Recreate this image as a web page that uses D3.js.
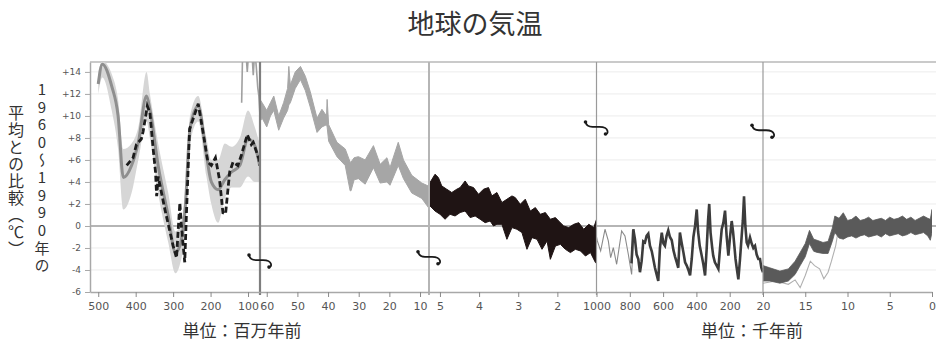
<!DOCTYPE html>
<html><head><meta charset="utf-8">
<script src="https://cdn.jsdelivr.net/npm/d3@7"></script>
<style>
html,body{margin:0;padding:0;background:#fff;}
svg{display:block;}
</style></head>
<body>
<svg id="chart" width="936" height="341"></svg>
<script>
// ---------------- DATA ----------------
const titleText = "地球の気温";
const yTitleRight = "1960～1990年の";
const yTitleLeft = "平均との比較（℃）";
const unitMa = "単位：百万年前";
const unitKa = "単位：千年前";

const panelDomains = [[522, 68], [62.2, 7.07], [5.28, 1], [1000, 0], [20, 0]];
const panelTicks = [[500,400,300,200,100],[60,50,40,30,20,10],[5,4,3,2],[1000,800,600,400,200],[20,15,10,5,0]];
const yTicks = [-6,-4,-2,0,2,4,6,8,10,12,14];

// Panel 1 (Ma): grey smoothed curve with uncertainty band
const p1Time = [500,489,464,447,433,411,393,371,362,340,313,294,282,268,255,233,211,198,180,162,144,122,100,82,69];
const p1Mid  = [12.9,14.7,12.7,10.0,4.4,5.5,7.6,11.8,10.6,5.5,0.9,-2.4,-1.8,1.5,8.8,10.9,6.4,4.0,3.3,4.2,4.9,5.5,7.9,7.3,5.5];
const p1Lo   = [12.0,13.5,10.5,7.0,1.5,3.0,6.0,9.5,8.0,3.0,-1.5,-4.3,-3.5,-0.5,7.5,9.5,4.5,2.0,0.3,2.5,3.5,3.5,4.5,4.0,4.0];
const p1Hi   = [14.0,15.0,13.8,11.5,7.0,7.5,9.0,14.0,12.0,7.5,3.0,-0.5,0.0,3.0,10.0,11.8,8.0,6.0,6.0,7.5,7.2,8.0,10.5,9.0,7.5];
// Panel 1 dashed curve
const dashTime = [424,407,398,385,380,369,362,353,347,344,340,322,300,291,282,278,269,265,256,247,233,220,207,198,187,176,167,160,149,140,127,118,102,91,86,71,69];
const dashTemp = [5.5,6.2,7.4,7.9,8.6,10.9,10.3,6.9,4.9,2.7,4.5,1.5,-1.8,-2.9,2.1,0.0,-3.3,0.6,8.8,9.7,11.1,8.5,5.8,5.5,6.2,4.2,1.2,1.1,4.9,5.8,5.5,6.4,8.3,7.4,7.6,6.1,5.5];
// Panel 1 late-Cretaceous grey trace
const kTime = [117,115,113,110,106,102,98,94,90,86,82,78,74,71,68];
const kTemp = [11.2,14.8,16,15.5,16,14,16,15,16,13.7,16,14.5,12.6,11.8,10.0];

// Panel 2 (Ma): noisy grey record (range low / high)
const p2Time = [62.2,61.5,60,58.8,57.7,56.1,54.5,53.2,52.8,52.3,50.7,49,47.4,45.8,43.6,42,40.5,40.3,39.8,37.1,34.4,32.8,32.5,31.5,30.1,27.9,25.2,23,20.8,19.8,17.1,15.4,12.7,9.4,7.07];
const p2Lo = [9.5,9.8,9.0,10.0,10.5,8.7,9.8,10.5,11.0,11.2,12.5,13.3,12.3,10.8,8.5,9.0,9.2,9.0,7.7,6.3,5.5,3.2,3.2,4.2,4.3,3.8,5.3,3.9,4.0,3.7,5.5,4.3,3.0,2.5,1.6];
const p2Hi = [11.5,11.2,10.5,11.2,11.8,10.0,11.2,12.5,14.5,12.8,14.0,14.5,13.6,12.2,9.8,10.6,10.0,11.5,9.2,7.6,7.0,5.8,5.8,6.2,6.3,6.0,7.3,5.6,6.2,5.3,7.6,6.0,4.6,3.9,3.6];

// Panel 3 (Ma): black noisy record, upper and lower envelopes
const p3UpTime = [5.28,5.254,5.126,5.04,4.955,4.827,4.698,4.57,4.485,4.357,4.272,4.143,4.015,3.887,3.759,3.674,3.545,3.417,3.289,3.16,3.076,2.948,2.82,2.692,2.563,2.435,2.307,2.179,2.05,1.966,1.838,1.71,1.582,1.454,1.326,1.197,1.069,1.0];
const p3UpTemp = [3.6,3.95,4.7,4.4,3.64,3.34,3.04,3.34,3.49,4.09,3.64,3.49,2.88,3.34,3.49,2.73,3.04,2.13,2.43,2.73,2.58,1.97,2.43,1.36,1.67,1.06,1.22,0.61,0.76,0.45,0.0,-0.15,0.15,0.3,-0.3,0.15,-0.15,0.6];
const p3LoTime = [5.28,5.254,5.126,4.998,4.87,4.742,4.614,4.485,4.357,4.229,4.101,3.973,3.845,3.717,3.632,3.545,3.417,3.289,3.16,3.033,2.905,2.777,2.649,2.52,2.392,2.264,2.179,2.05,1.923,1.795,1.667,1.539,1.41,1.282,1.154,1.026,1.0];
const p3LoTemp = [2.0,1.82,1.36,1.06,0.61,1.06,0.91,1.22,1.36,0.76,0.91,0.61,0.3,0.45,0.0,0.15,0.15,-1.21,-0.15,-0.3,-0.6,-2.12,-1.06,-1.21,-2.12,-1.36,-3.03,-1.82,-1.67,-2.12,-2.42,-2.12,-2.27,-2.73,-2.42,-3.33,-3.4];

// Panel 4 (ka): thin early record and dark record
const p4aTime = [1000,995,975,949,929,915,899,879,849,829,809,789,775];
const p4aTemp = [-1.0,-1.36,-2.27,-0.3,-1.36,-2.88,-1.97,-3.48,-0.45,-0.9,-2.57,-4.4,-0.3];
const p4Time = [790,779,769,759,749,739,729,719,709,699,689,679,668,659,649,639,629,619,608,598,589,579,569,559,548,538,528,518,509,499,489,478,468,458,448,438,428,418,408,398,390,380,368,358,348,338,330,323,315,305,299,289,278,268,258,248,238,228,218,208,198,188,180,172,165,158,148,138,128,121,114,106,98,90,78,68,58,48,38,28,18,10,0];
const p4Temp = [-3.4,-0.3,-1.2,-2.6,-3.0,-4.2,-3.2,-1.4,-1.5,-0.9,-0.7,-1.8,-2.3,-3.0,-3.8,-4.4,-5.0,-2.0,-0.6,-1.6,-1.8,-0.9,-0.4,-1.0,-1.3,-2.2,-2.8,-3.3,-3.8,-0.6,-1.5,-2.4,-3.3,-3.6,-4.0,-4.5,-3.0,-1.0,0.0,1.5,-0.5,-1.8,-2.7,-3.5,-4.5,-2.0,0.5,2.0,-0.6,-2.0,-2.7,-3.3,-3.6,-3.9,-2.0,-0.3,0.3,1.4,-1.0,-2.7,-1.0,0.45,-0.5,-1.8,-3.0,-3.8,-4.85,-3.0,-0.9,0.5,2.7,0.0,-1.5,-1.8,-1.05,-1.6,-2.0,-1.8,-2.6,-3.0,-3.0,-3.8,-4.2];

// Panel 5 (ka): light thin record and dark band record
const p5LightTime = [20,18.5,17,16.2,15.6,15.0,14.4,13.9,13.3,12.8,12.3,11.9,11.4,11.1,10.8,8,5,2,0];
const p5LightTemp = [-5.2,-5.0,-5.3,-4.9,-5.6,-4.5,-3.2,-3.6,-3.9,-4.8,-4.2,-3.2,-1.8,-0.4,0.1,0.1,0.1,0.2,0.2];
const p5Time = [20,19.2,18,17,16.2,15.6,15.0,14.5,14.0,13.6,12.9,12.3,11.8,11.5,11.0,10.5,10,9.5,9,8.5,8,7.5,7,6.5,6,5.5,5,4.5,4,3.5,3,2.5,2,1.5,1,0.5,0.2,0];
const p5Lo = [-5.0,-5.0,-5.2,-5.0,-4.4,-3.6,-2.8,-1.6,-2.3,-2.4,-2.5,-2.5,-1.4,-0.6,-1.1,-1.2,-1.0,-0.9,-1.1,-0.9,-0.8,-1.0,-0.9,-0.8,-1.0,-0.7,-0.9,-0.8,-0.7,-0.9,-0.8,-0.6,-0.8,-0.7,-0.6,-0.9,-1.3,-0.6];
const p5Hi = [-3.6,-3.8,-4.1,-3.9,-3.2,-2.4,-1.6,-0.4,-1.2,-1.3,-1.5,-1.4,-0.2,0.9,0.7,1.2,0.5,0.6,0.9,0.5,0.6,0.8,0.5,0.6,0.7,0.5,0.8,0.6,0.7,0.9,0.6,0.8,0.5,0.7,0.9,0.7,0.6,1.5];

// Break symbols: [panel boundary index, temperature level]
const breakMarks = [[1,-3.1],[2,-2.8],[3,9.0],[4,8.7]];

// ---------------- LAYOUT ----------------
const svg = d3.select("#chart");
const plotTop = 62, plotBottom = 292;
const edges = [90, 260, 429, 596.5, 763, 932];
const y = d3.scaleLinear().domain([-6, 14.9]).range([plotBottom, plotTop]);
const xs = panelDomains.map((d, i) => d3.scaleLinear().domain(d).range([edges[i], edges[i + 1]]));
const zip = (a, b) => a.map((v, i) => [v, b[i]]);

// title
svg.append("text").attr("x", 475).attr("y", 34).attr("text-anchor", "middle")
  .attr("font-family", "'Noto Sans CJK JP', sans-serif").attr("font-size", 27)
  .attr("fill", "#333").text(titleText);

// grid
svg.append("g").selectAll("line").data(yTicks.filter(d => d !== 0 && d !== -6)).join("line")
  .attr("x1", edges[0]).attr("x2", 936).attr("y1", d => y(d)).attr("y2", d => y(d))
  .attr("stroke", "#ececec").attr("stroke-width", 1);
// top border
svg.append("line").attr("x1", edges[0]).attr("x2", 936).attr("y1", plotTop).attr("y2", plotTop)
  .attr("stroke", "#b8b8b8").attr("stroke-width", 1.5);
// zero line
svg.append("line").attr("x1", edges[0]).attr("x2", 936).attr("y1", y(0)).attr("y2", y(0))
  .attr("stroke", "#9c9c9c").attr("stroke-width", 1.5);

// clip paths
const defs = svg.append("defs");
edges.slice(0, 5).forEach((e, i) => {
  defs.append("clipPath").attr("id", "clip" + i).append("rect")
    .attr("x", e).attr("y", plotTop).attr("width", edges[i + 1] - e).attr("height", plotBottom - plotTop);
});
const panelG = i => svg.append("g").attr("clip-path", `url(#clip${i})`);

// Panel 1
{
  const g = panelG(0), x = xs[0];
  g.append("path").datum(p1Time.map((t, i) => [t, p1Lo[i], p1Hi[i]]))
    .attr("d", d3.area().x(d => x(d[0])).y0(d => y(d[1])).y1(d => y(d[2])).curve(d3.curveMonotoneX))
    .attr("fill", "#d6d6d6");
  g.append("path").datum(zip(p1Time, p1Mid))
    .attr("d", d3.line().x(d => x(d[0])).y(d => y(d[1])).curve(d3.curveMonotoneX))
    .attr("fill", "none").attr("stroke", "#8f8f8f").attr("stroke-width", 3);
  g.append("path").datum(zip(kTime, kTemp))
    .attr("d", d3.line().x(d => x(d[0])).y(d => y(d[1])))
    .attr("fill", "none").attr("stroke", "#a0a0a0").attr("stroke-width", 1.6);
  g.append("path").datum(zip(dashTime, dashTemp))
    .attr("d", d3.line().x(d => x(d[0])).y(d => y(d[1])))
    .attr("fill", "none").attr("stroke", "#1c1c1c").attr("stroke-width", 2.8)
    .attr("stroke-dasharray", "6,3");
}
// Panel 2
{
  const g = panelG(1), x = xs[1];
  g.append("path").datum(p2Time.map((t, i) => [t, p2Lo[i], p2Hi[i]]))
    .attr("d", d3.area().x(d => x(d[0])).y0(d => y(d[1])).y1(d => y(d[2])))
    .attr("fill", "#a6a6a6").attr("stroke", "#a6a6a6").attr("stroke-width", 1);
}
// Panel 3
{
  const g = panelG(2), x = xs[2];
  const pts = zip(p3UpTime, p3UpTemp).concat(zip(p3LoTime, p3LoTemp).reverse());
  g.append("path")
    .attr("d", d3.line().x(d => x(d[0])).y(d => y(d[1]))(pts) + "Z")
    .attr("fill", "#1f1414").attr("stroke", "#1f1414").attr("stroke-width", 1);
}
// Panel 4
{
  const g = panelG(3), x = xs[3];
  g.append("path").datum(zip(p4aTime, p4aTemp))
    .attr("d", d3.line().x(d => x(d[0])).y(d => y(d[1])))
    .attr("fill", "none").attr("stroke", "#8a8a8a").attr("stroke-width", 1.1);
  g.append("path").datum(zip(p4Time, p4Temp))
    .attr("d", d3.line().x(d => x(d[0])).y(d => y(d[1])))
    .attr("fill", "none").attr("stroke", "#3c3c3c").attr("stroke-width", 2.6);
}
// Panel 5
{
  const g = panelG(4), x = xs[4];
  g.append("path").datum(zip(p5LightTime, p5LightTemp))
    .attr("d", d3.line().x(d => x(d[0])).y(d => y(d[1])))
    .attr("fill", "none").attr("stroke", "#b0b0b0").attr("stroke-width", 1.1);
  g.append("path").datum(p5Time.map((t, i) => [t, p5Lo[i], p5Hi[i]]))
    .attr("d", d3.area().x(d => x(d[0])).y0(d => y(d[1])).y1(d => y(d[2])))
    .attr("fill", "#5a5a5a").attr("stroke", "#5a5a5a").attr("stroke-width", 0.8);
}

// panel dividers
const divStyles = [null, ["#7e7e7e", 2.2], ["#b5b5b5", 2], ["#9a9a9a", 1.2], ["#9a9a9a", 1.2]];
[1, 2, 3, 4].forEach(i => {
  svg.append("line").attr("x1", edges[i]).attr("x2", edges[i]).attr("y1", plotTop).attr("y2", plotBottom + 3)
    .attr("stroke", divStyles[i][0]).attr("stroke-width", divStyles[i][1]);
});

// y axis
const yAxis = svg.append("g").attr("transform", `translate(${edges[0]},0)`)
  .call(d3.axisLeft(y).tickValues(yTicks).tickSize(5).tickSizeOuter(0).tickPadding(4)
    .tickFormat(d => d > 0 ? "+" + d : String(d)));
yAxis.select(".domain").attr("stroke", "#a8a8a8").attr("stroke-width", 1.5);
yAxis.selectAll(".tick line").attr("stroke", "#a8a8a8");
yAxis.selectAll(".tick text").attr("font-family", "'DejaVu Sans', sans-serif").attr("font-size", 9).attr("fill", "#555");

// x axes
xs.forEach((x, i) => {
  const ax = svg.append("g").attr("transform", `translate(0,${plotBottom})`)
    .call(d3.axisBottom(x).tickValues(panelTicks[i]).tickSize(5).tickSizeOuter(0).tickPadding(6)
      .tickFormat(d => String(d)));
  ax.select(".domain").attr("stroke", "#a8a8a8").attr("stroke-width", 1.5);
  ax.selectAll(".tick line").attr("stroke", "#8a8a8a");
  ax.selectAll(".tick text").attr("font-family", "'DejaVu Sans', sans-serif").attr("font-size", 10)
    .attr("fill", "#555").attr("transform", "scale(1.1,1)");
});

// break marks
breakMarks.forEach(([bi, temp]) => {
  const g = svg.append("g").attr("transform", `translate(${edges[bi]},${y(temp)})`);
  g.append("path").attr("d", "M-11,-5 Q-10,0 -4,0 L3,0 Q10,0 11,4 Q11.5,7 9,7")
    .attr("fill", "none").attr("stroke", "#1a1a1a").attr("stroke-width", 1.8);
  g.append("circle").attr("cx", -11).attr("cy", -5).attr("r", 1.8).attr("fill", "#1a1a1a");
  g.append("circle").attr("cx", 9).attr("cy", 7).attr("r", 1.8).attr("fill", "#1a1a1a");
});

// y title (vertical)
svg.append("text").attr("x", 42).attr("y", 82)
  .attr("style", "writing-mode: vertical-rl; text-orientation: upright; letter-spacing: 2.6px;")
  .attr("font-family", "'Noto Sans CJK JP', sans-serif").attr("font-size", 15).attr("fill", "#333")
  .text(yTitleRight);
svg.append("text").attr("x", 16).attr("y", 105)
  .attr("style", "writing-mode: vertical-rl; text-orientation: upright; letter-spacing: 1px;")
  .attr("font-family", "'Noto Sans CJK JP', sans-serif").attr("font-size", 16).attr("fill", "#333")
  .text(yTitleLeft);

// unit labels
svg.append("text").attr("x", 242).attr("y", 337).attr("text-anchor", "middle")
  .attr("font-family", "'Noto Sans CJK JP', sans-serif").attr("font-size", 17).attr("fill", "#333").text(unitMa);
svg.append("text").attr("x", 752).attr("y", 337).attr("text-anchor", "middle")
  .attr("font-family", "'Noto Sans CJK JP', sans-serif").attr("font-size", 17).attr("fill", "#333").text(unitKa);
</script>
</body></html>
